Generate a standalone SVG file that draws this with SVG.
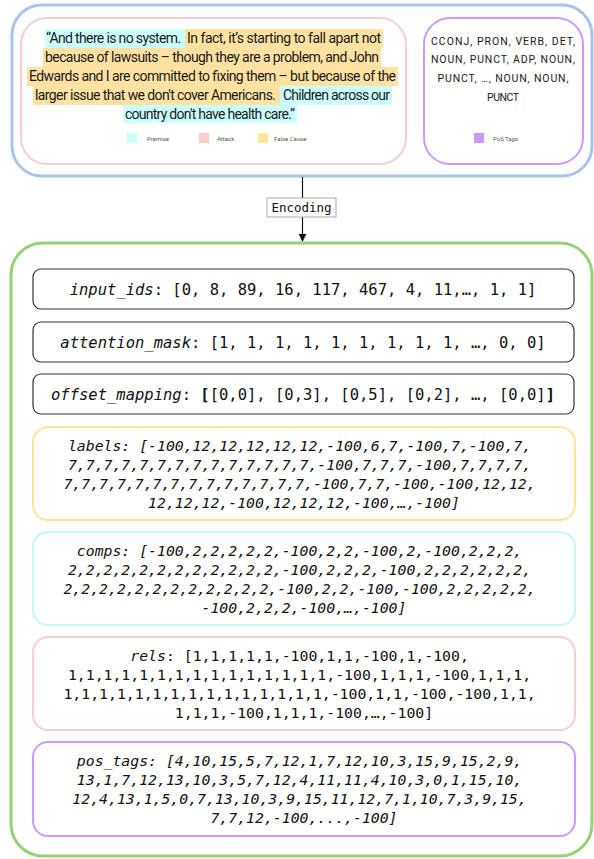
<svg xmlns="http://www.w3.org/2000/svg" width="594" height="859" viewBox="0 0 594 859">
<defs>
<style>
.sans{font-family:Roboto,"Liberation Sans",sans-serif;fill:#1a1a1a}
.mono{font-family:"DejaVu Sans Mono","Liberation Mono",monospace;fill:#111}
.big{font-size:15.5px}
.small{font-size:14.8px}
.it{font-style:italic}
.leg{font-family:Roboto,"Liberation Sans",sans-serif;font-size:6px;fill:#555}
.blk{fill:#fff;stroke:#333;stroke-width:1.2}
</style>
<marker id="arr" viewBox="0 0 10 10" refX="9" refY="5" markerWidth="8" markerHeight="8" orient="auto" markerUnits="userSpaceOnUse">
<path d="M0,0 L10,5 L0,10 z" fill="#111"/>
</marker>
</defs>
<rect width="594" height="859" fill="#fff"/>

<g id="input-group">
<rect x="12" y="5" width="580" height="171" rx="30" fill="#fff" stroke="#a9c4eb" stroke-width="3"/>
</g>

<g id="argument-text">
<rect x="21" y="18" width="385" height="146" rx="26" fill="#fff" stroke="#f8cecc" stroke-width="2"/>
<rect x="45" y="29" width="140" height="19" fill="#ccffff"/>
<rect x="185" y="29" width="198" height="19" fill="#ffe2a1"/>
<rect x="43" y="48" width="338" height="19" fill="#ffe2a1"/>
<rect x="27" y="67" width="371" height="19" fill="#ffe2a1"/>
<rect x="33" y="86" width="247" height="19" fill="#ffe2a1"/>
<rect x="280" y="86" width="112" height="19" fill="#ccffff"/>
<rect x="123" y="105" width="174" height="18" fill="#ccffff"/>
<text class="sans" font-size="14" x="46" y="43" textLength="135">“And there is no system.</text>
<text class="sans" font-size="14" x="187" y="43" textLength="194">In fact, it’s starting to fall apart not</text>
<text class="sans" font-size="14" x="45" y="62" textLength="334">because of lawsuits – though they are a problem, and John</text>
<text class="sans" font-size="14" x="29" y="81" textLength="367">Edwards and I are committed to fixing them – but because of the</text>
<text class="sans" font-size="14" x="35" y="100" textLength="241">larger issue that we don't cover Americans.</text>
<text class="sans" font-size="14" x="283" y="100" textLength="107">Children across our</text>
<text class="sans" font-size="14" x="125" y="119" textLength="170">country don't have health care.”</text>
<rect x="127" y="133" width="10" height="10" fill="#ccffff"/>
<text class="leg" x="147" y="140.5">Premise</text>
<rect x="199" y="133" width="10" height="10" fill="#f8cecc"/>
<text class="leg" x="217" y="140.5">Attack</text>
<rect x="258" y="133" width="10" height="10" fill="#ffe599"/>
<text class="leg" x="274" y="140.5">False Cause</text>
</g>

<g id="pos-text">
<rect x="424" y="18" width="159" height="146" rx="26" fill="#fff" stroke="#cc99ff" stroke-width="2"/>
<text class="sans" font-size="10.5" text-anchor="middle" x="503" y="45" textLength="144">CCONJ, PRON, VERB, DET,</text>
<text class="sans" font-size="10.5" text-anchor="middle" x="503" y="62.5" textLength="144">NOUN, PUNCT, ADP, NOUN,</text>
<text class="sans" font-size="10.5" text-anchor="middle" x="503" y="82" textLength="131">PUNCT, …, NOUN, NOUN,</text>
<text class="sans" font-size="10.5" text-anchor="middle" x="503" y="101" textLength="32">PUNCT</text>
<rect x="474" y="133" width="10" height="10" fill="#cc99ff"/>
<text class="leg" x="493" y="140.5">PoS Tags</text>
</g>

<g id="encoding-group">
<rect x="11" y="243" width="581" height="613" rx="32" fill="#fff" stroke="#97d077" stroke-width="3"/>
</g>

<g id="connectors">
<line x1="302.5" y1="177" x2="302.5" y2="241" stroke="#111" stroke-width="1.2" marker-end="url(#arr)"/>
<rect x="267" y="198" width="69" height="19" fill="#fff" stroke="#aaa" stroke-width="1"/>
<text class="mono" font-size="12.5" text-anchor="middle" x="301.5" y="212">Encoding</text>
</g>

<g id="input-ids">
<rect class="blk" x="33" y="269" width="541" height="40" rx="8"/>
<text class="mono big" text-anchor="middle" x="303" y="294.5"><tspan class="it">input_ids</tspan>: [0, 8, 89, 16, 117, 467, 4, 11,…, 1, 1]</text>
</g>

<g id="attention-mask">
<rect class="blk" x="33" y="322" width="541" height="40" rx="8"/>
<text class="mono big" text-anchor="middle" x="303" y="347.5"><tspan class="it">attention_mask</tspan>: [1, 1, 1, 1, 1, 1, 1, 1, 1, …, 0, 0]</text>
</g>

<g id="offset-mapping">
<rect class="blk" x="33" y="374" width="541" height="40" rx="8"/>
<text class="mono big" text-anchor="middle" x="303" y="399.5"><tspan class="it">offset_mapping</tspan>: <tspan font-weight="bold">[</tspan>[0,0], [0,3], [0,5], [0,2], …, [0,0]<tspan font-weight="bold">]</tspan></text>
</g>

<g id="labels">
<rect x="33" y="427" width="542" height="93" rx="15" fill="#fff" stroke="#ffe599" stroke-width="2"/>
<text class="mono small it" text-anchor="middle" x="304">
<tspan x="304" y="450.5">labels: [-100,12,12,12,12,12,-100,6,7,-100,7,-100,7,</tspan>
<tspan x="304" y="469.5">7,7,7,7,7,7,7,7,7,7,7,7,7,7,-100,7,7,7,-100,7,7,7,7,</tspan>
<tspan x="304" y="488.5">7,7,7,7,7,7,7,7,7,7,7,7,7,7,-100,7,7,-100,-100,12,12,</tspan>
<tspan x="304" y="507.5">12,12,12,-100,12,12,12,-100,…,-100]</tspan>
</text>
</g>

<g id="comps">
<rect x="33" y="532" width="542" height="93" rx="15" fill="#fff" stroke="#c4f6fb" stroke-width="2"/>
<text class="mono small it" text-anchor="middle" x="304">
<tspan x="304" y="555.5">comps: [-100,2,2,2,2,2,-100,2,2,-100,2,-100,2,2,2,</tspan>
<tspan x="304" y="574.5">2,2,2,2,2,2,2,2,2,2,2,2,-100,2,2,2,-100,2,2,2,2,2,2,</tspan>
<tspan x="304" y="593.5">2,2,2,2,2,2,2,2,2,2,2,2,-100,2,2,-100,-100,2,2,2,2,2,</tspan>
<tspan x="304" y="612.5">-100,2,2,2,-100,…,-100]</tspan>
</text>
</g>

<g id="rels">
<rect x="33" y="637" width="542" height="93" rx="15" fill="#fff" stroke="#f8cecc" stroke-width="2"/>
<text class="mono small" text-anchor="middle" x="304">
<tspan x="304" y="660.5"><tspan class="it">rels</tspan>: [1,1,1,1,1,-100,1,1,-100,1,-100,</tspan>
<tspan x="304" y="679.5">1,1,1,1,1,1,1,1,1,1,1,1,1,1,1,-100,1,1,1,-100,1,1,1,</tspan>
<tspan x="304" y="698.5">1,1,1,1,1,1,1,1,1,1,1,1,1,1,1,-100,1,1,-100,-100,1,1,</tspan>
<tspan x="304" y="717.5">1,1,1,-100,1,1,1,-100,…,-100]</tspan>
</text>
</g>

<g id="pos-tags">
<rect x="33" y="742" width="542" height="94" rx="15" fill="#fff" stroke="#cc99ff" stroke-width="2"/>
<text class="mono small it" text-anchor="middle" x="304">
<tspan x="304" y="765.5">pos_tags: [4,10,15,5,7,12,1,7,12,10,3,15,9,15,2,9,</tspan>
<tspan x="304" y="784.5">13,1,7,12,13,10,3,5,7,12,4,11,11,4,10,3,0,1,15,10,</tspan>
<tspan x="304" y="803.5">12,4,13,1,5,0,7,13,10,3,9,15,11,12,7,1,10,7,3,9,15,</tspan>
<tspan x="304" y="822.5">7,7,12,-100,...,-100]</tspan>
</text>
</g>
</svg>
